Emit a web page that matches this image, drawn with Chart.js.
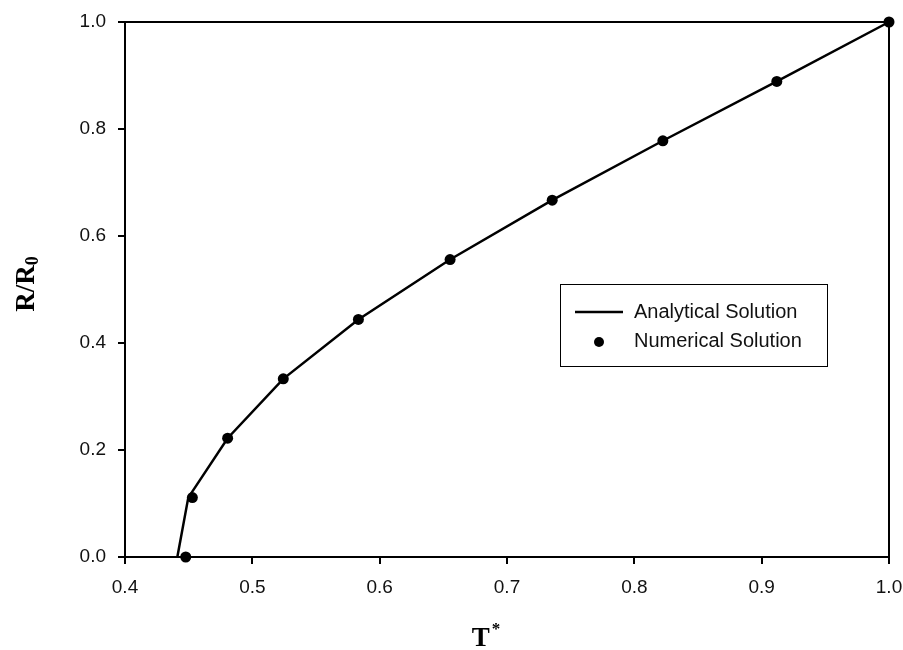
<!DOCTYPE html>
<html>
<head>
<meta charset="utf-8">
<script src="https://cdn.jsdelivr.net/npm/chart.js@4/dist/chart.umd.min.js"></script>
<style>
  html, body { margin: 0; padding: 0; background: #fff; }
  canvas { display: block; }
</style>
</head>
<body>
<canvas id="c" width="903" height="650"></canvas>
<script>
// ---- data ----
const analyticalT = [0.4411, 0.4497, 0.4806, 0.5243, 0.5833, 0.6553, 0.7355, 0.8224, 0.9119, 1.0];
const analyticalR = [0.0, 0.111, 0.222, 0.333, 0.444, 0.556, 0.667, 0.778, 0.889, 1.0];
const numericalT = [0.4477, 0.4529, 0.4806, 0.5243, 0.5833, 0.6553, 0.7355, 0.8224, 0.9119, 1.0];
const numericalR = [0.0, 0.111, 0.222, 0.333, 0.444, 0.556, 0.667, 0.778, 0.889, 1.0];
const seriesLabels = ['Analytical Solution', 'Numerical Solution'];
const xTicks = [0.4, 0.5, 0.6, 0.7, 0.8, 0.9, 1.0];
const yTicks = [0.0, 0.2, 0.4, 0.6, 0.8, 1.0];
const xTitle = 'T';
const xTitleSup = '*';
const yTitle = 'R/R';
const yTitleSub = '0';

const toPts = (xs, ys) => xs.map((x, i) => ({ x: x, y: ys[i] }));

const TICK_FONT = { family: "'Liberation Sans', Arial, sans-serif", size: 19 };

const decorPlugin = {
  id: 'decor',
  afterDraw(chart) {
    const ctx = chart.ctx;
    const a = chart.chartArea;
    ctx.save();
    // full frame around plot
    ctx.strokeStyle = '#000';
    ctx.lineWidth = 2;
    ctx.strokeRect(a.left, a.top, a.right - a.left, a.bottom - a.top);

    // axis titles
    ctx.fillStyle = '#000';
    // x title T*
    ctx.font = "bold 27px 'Liberation Serif', 'Times New Roman', serif";
    ctx.textBaseline = 'alphabetic';
    ctx.textAlign = 'left';
    const tw = ctx.measureText(xTitle).width;
    ctx.font = "bold 17px 'Liberation Serif', 'Times New Roman', serif";
    const sw = ctx.measureText(xTitleSup).width;
    const cx = 486;
    const startX = cx - (tw + sw + 2) / 2;
    ctx.font = "bold 27px 'Liberation Serif', 'Times New Roman', serif";
    ctx.fillText(xTitle, startX, 646);
    ctx.font = "bold 17px 'Liberation Serif', 'Times New Roman', serif";
    ctx.fillText(xTitleSup, startX + tw + 2, 634);

    // y title R/R0 rotated
    ctx.save();
    ctx.translate(34, 284);
    ctx.rotate(-Math.PI / 2);
    ctx.font = "bold 27px 'Liberation Serif', 'Times New Roman', serif";
    const mw = ctx.measureText(yTitle).width;
    ctx.font = "bold 18px 'Liberation Serif', 'Times New Roman', serif";
    const subw = ctx.measureText(yTitleSub).width;
    const sx = -(mw + subw) / 2;
    ctx.font = "bold 27px 'Liberation Serif', 'Times New Roman', serif";
    ctx.fillText(yTitle, sx, 0);
    ctx.font = "bold 18px 'Liberation Serif', 'Times New Roman', serif";
    ctx.fillText(yTitleSub, sx + mw, 4);
    ctx.restore();

    // legend box
    const ds = chart.data.datasets;
    ctx.strokeStyle = '#000';
    ctx.lineWidth = 1;
    ctx.strokeRect(560.5, 284.5, 267, 82);
    ctx.lineWidth = 2.5;
    ctx.beginPath();
    ctx.moveTo(575, 312);
    ctx.lineTo(623, 312);
    ctx.stroke();
    ctx.beginPath();
    ctx.arc(599, 342, 5, 0, Math.PI * 2);
    ctx.fill();
    ctx.font = "20px 'Liberation Sans', Arial, sans-serif";
    ctx.textBaseline = 'middle';
    ctx.fillStyle = '#111';
    ctx.fillText(ds[0].label, 634, 312);
    ctx.fillText(ds[1].label, 634, 341);
    ctx.restore();
  }
};

new Chart(document.getElementById('c'), {
  type: 'scatter',
  data: {
    datasets: [
      {
        label: seriesLabels[0],
        data: toPts(analyticalT, analyticalR),
        showLine: true,
        borderColor: '#000',
        backgroundColor: '#000',
        borderWidth: 2.5,
        pointRadius: 0,
        tension: 0,
        clip: false
      },
      {
        label: seriesLabels[1],
        data: toPts(numericalT, numericalR),
        showLine: false,
        borderColor: '#000',
        backgroundColor: '#000',
        pointRadius: 5.5,
        pointBorderWidth: 0,
        clip: false
      }
    ]
  },
  options: {
    responsive: false,
    animation: false,
    layout: { padding: { top: 22, right: 14, left: 0, bottom: 0 } },
    plugins: {
      legend: { display: false },
      tooltip: { enabled: false }
    },
    scales: {
      x: {
        type: 'linear',
        min: xTicks[0],
        max: xTicks[xTicks.length - 1],
        afterBuildTicks: (s) => { s.ticks = xTicks.map(v => ({ value: v })); },
        afterFit: (s) => { s.height = 93; s.paddingLeft = 0; s.paddingRight = 0; },
        ticks: {
          color: '#111',
          font: TICK_FONT,
          padding: 12,
          maxRotation: 0,
          callback: (v) => Number(v).toFixed(1)
        },
        grid: { drawOnChartArea: false, drawTicks: true, tickLength: 7, color: '#000', lineWidth: 2 },
        border: { display: true, color: '#000', width: 2 }
      },
      y: {
        type: 'linear',
        min: yTicks[0],
        max: yTicks[yTicks.length - 1],
        afterBuildTicks: (s) => { s.ticks = yTicks.map(v => ({ value: v })); },
        afterFit: (s) => { s.width = 125; s.paddingTop = 0; s.paddingBottom = 0; },
        ticks: {
          color: '#111',
          font: TICK_FONT,
          padding: 12,
          callback: (v) => Number(v).toFixed(1)
        },
        grid: { drawOnChartArea: false, drawTicks: true, tickLength: 7, color: '#000', lineWidth: 2 },
        border: { display: true, color: '#000', width: 2 }
      }
    }
  },
  plugins: [decorPlugin]
});
</script>
</body>
</html>
